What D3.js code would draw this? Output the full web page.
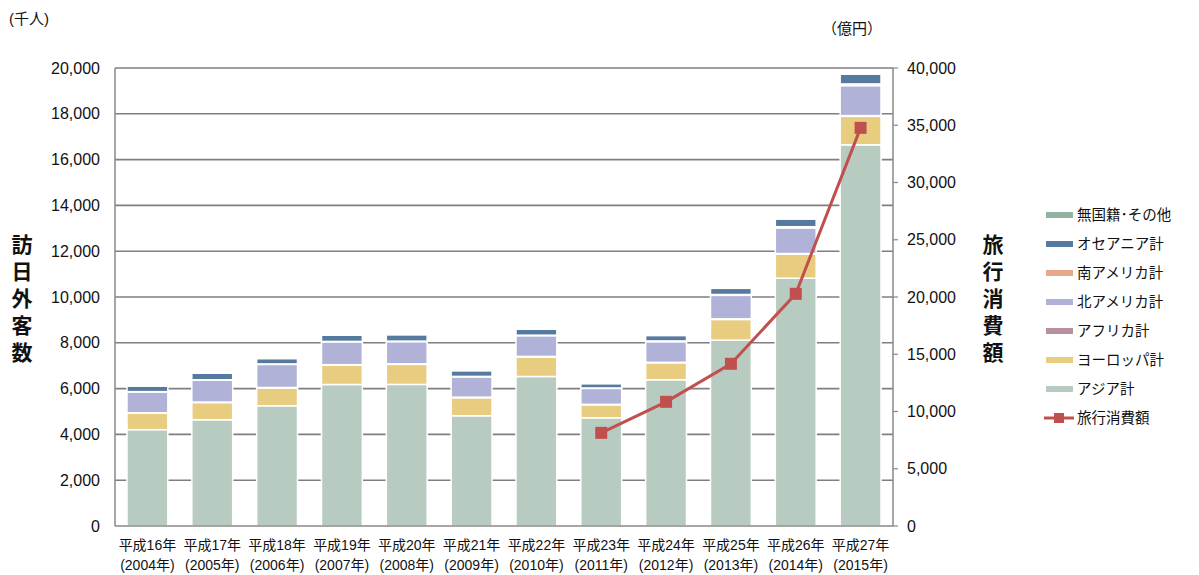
<!DOCTYPE html>
<html>
<head>
<meta charset="utf-8">
<script src="https://cdn.jsdelivr.net/npm/d3@7/dist/d3.min.js"></script>
<style>
  body { margin: 0; background: #fff; }
  svg { font-family: "Liberation Sans", Arial, "Noto Sans CJK JP", sans-serif; }
</style>
</head>
<body>
<svg id="chart" width="1199" height="575"></svg>
<script>
// data (千人 / 億円)
const eraLabels = ['平成16年','平成17年','平成18年','平成19年','平成20年','平成21年','平成22年','平成23年','平成24年','平成25年','平成26年','平成27年'];
const yearLabels = ['(2004年)','(2005年)','(2006年)','(2007年)','(2008年)','(2009年)','(2010年)','(2011年)','(2012年)','(2013年)','(2014年)','(2015年)'];

const asia    = [4208, 4639, 5251, 6179, 6183, 4814, 6528, 4726, 6387, 8115, 10819, 16645];
const europe  = [718, 753, 777, 842, 876, 789, 853, 567, 739, 904, 1049, 1244];
const africa  = [19, 20, 21, 23, 25, 22, 24, 20, 23, 27, 30, 32];
const northAm = [906, 955, 1009, 996, 969, 889, 906, 697, 901, 1027, 1118, 1310];
const southAm = [17, 18, 20, 21, 20, 19, 22, 18, 31, 36, 53, 74];
const oceania = [243, 285, 235, 269, 281, 250, 260, 190, 239, 271, 336, 429];
const others  = [2, 2, 2, 2, 2, 2, 2, 2, 2, 2, 2, 2];

// 旅行消費額 only from 2011
const spendYears = [7, 8, 9, 10, 11];
const spending = [8135, 10846, 14167, 20278, 34771];

const seriesNames = ['アジア計','ヨーロッパ計','アフリカ計','北アメリカ計','南アメリカ計','オセアニア計','無国籍･その他'];
const seriesColors = ['#b8cbc1','#e8cc7f','#b890a2','#b0b2d8','#e8a98a','#56799f','#91b3a1'];

const leftTicks = [0, 2000, 4000, 6000, 8000, 10000, 12000, 14000, 16000, 18000, 20000];
const rightTicks = [0, 5000, 10000, 15000, 20000, 25000, 30000, 35000, 40000];

const svg = d3.select('#chart');
const margin = {left: 115, right: 306, top: 68, bottom: 49};
const W = 1199 - margin.left - margin.right;
const H = 575 - margin.top - margin.bottom;

const g = svg.append('g').attr('transform', 'translate(' + margin.left + ',' + margin.top + ')');

const x = d3.scaleBand().domain(d3.range(12)).range([0, W]).paddingInner(0.37).paddingOuter(0.185);
const y = d3.scaleLinear().domain([0, 20000]).range([H, 0]);
const y2 = d3.scaleLinear().domain([0, 40000]).range([H, 0]);

// grid
g.append('g').selectAll('line').data(leftTicks.slice(1)).enter().append('line')
  .attr('x1', 0).attr('x2', W)
  .attr('y1', d => y(d)).attr('y2', d => y(d))
  .attr('stroke', '#7f7f7f').attr('stroke-width', 1.6);

// stacked bars
const table = d3.range(12).map(i => ({
  i: i, s0: asia[i], s1: europe[i], s2: africa[i], s3: northAm[i], s4: southAm[i], s5: oceania[i], s6: others[i]
}));
const stack = d3.stack().keys(['s0','s1','s2','s3','s4','s5','s6']);
const layers = stack(table);

g.append('g').selectAll('g').data(layers).enter().append('g')
  .attr('fill', (d, k) => seriesColors[k])
  .selectAll('rect').data(d => d).enter().append('rect')
    .attr('x', d => x(d.data.i))
    .attr('width', x.bandwidth())
    .attr('y', d => y(d[1]))
    .attr('height', d => Math.max(0, y(d[0]) - y(d[1])))
    .attr('stroke', '#fff').attr('stroke-width', 1.5);

// axes lines
g.append('line').attr('x1', 0).attr('x2', 0).attr('y1', 0).attr('y2', H).attr('stroke', '#888').attr('stroke-width', 1.5);
g.append('line').attr('x1', W).attr('x2', W).attr('y1', 0).attr('y2', H).attr('stroke', '#888').attr('stroke-width', 1.5);
g.append('line').attr('x1', 0).attr('x2', W).attr('y1', H).attr('y2', H).attr('stroke', '#888').attr('stroke-width', 1.5);

// left tick labels
g.append('g').selectAll('text').data(leftTicks).enter().append('text')
  .attr('x', -15).attr('y', d => y(d)).attr('dy', '0.35em')
  .attr('text-anchor', 'end').attr('font-size', 16).attr('fill', '#111')
  .text(d => d3.format(',')(d));

// right ticks
const rt = g.append('g');
rt.selectAll('line').data(rightTicks).enter().append('line')
  .attr('x1', W).attr('x2', W + 5).attr('y1', d => y2(d)).attr('y2', d => y2(d))
  .attr('stroke', '#888').attr('stroke-width', 1.2);
rt.selectAll('text').data(rightTicks).enter().append('text')
  .attr('x', W + 14).attr('y', d => y2(d)).attr('dy', '0.35em')
  .attr('font-size', 16).attr('fill', '#111')
  .text(d => d3.format(',')(d));

// x labels
const xl = g.append('g');
xl.selectAll('text.era').data(eraLabels).enter().append('text')
  .attr('x', (d, i) => x(i) + x.bandwidth() / 2).attr('y', H + 24)
  .attr('text-anchor', 'middle').attr('font-size', 14).attr('fill', '#111')
  .text(d => d);
xl.selectAll('text.yr').data(yearLabels).enter().append('text')
  .attr('x', (d, i) => x(i) + x.bandwidth() / 2).attr('y', H + 44)
  .attr('text-anchor', 'middle').attr('font-size', 14).attr('fill', '#111')
  .text(d => d);

// spending line
const spendData = spendYears.map((yi, k) => ({i: yi, v: spending[k]}));
g.append('path').datum(spendData)
  .attr('fill', 'none').attr('stroke', '#c0504d').attr('stroke-width', 3)
  .attr('d', d3.line().x(d => x(d.i) + x.bandwidth() / 2).y(d => y2(d.v)));
g.append('g').selectAll('rect').data(spendData).enter().append('rect')
  .attr('x', d => x(d.i) + x.bandwidth() / 2 - 6)
  .attr('y', d => y2(d.v) - 6)
  .attr('width', 12).attr('height', 12)
  .attr('fill', '#c0504d');

// unit labels
svg.append('text').attr('x', 9).attr('y', 24).attr('font-size', 15).attr('fill', '#111').text('(千人)');
svg.append('text').attr('x', 822).attr('y', 34).attr('font-size', 15).attr('fill', '#111').text('（億円）');

// vertical axis titles
const leftTitle = '訪日外客数'.split('');
svg.append('g').selectAll('text').data(leftTitle).enter().append('text')
  .attr('x', 22).attr('y', (d, i) => 252 + i * 27)
  .attr('text-anchor', 'middle').attr('font-size', 21).attr('font-weight', 'bold').attr('fill', '#111')
  .text(d => d);
const rightTitle = '旅行消費額'.split('');
svg.append('g').selectAll('text').data(rightTitle).enter().append('text')
  .attr('x', 993).attr('y', (d, i) => 252 + i * 27)
  .attr('text-anchor', 'middle').attr('font-size', 21).attr('font-weight', 'bold').attr('fill', '#111')
  .text(d => d);

// legend (reverse order, then line)
const legendItems = seriesNames.map((n, k) => ({name: n, color: seriesColors[k]})).reverse();
const lg = svg.append('g').attr('transform', 'translate(1046,215)');
const rows = lg.selectAll('g').data(legendItems).enter().append('g')
  .attr('transform', (d, i) => 'translate(0,' + i * 29 + ')');
rows.append('rect').attr('x', 0).attr('y', -3).attr('width', 27).attr('height', 6).attr('fill', d => d.color);
rows.append('text').attr('x', 31).attr('y', 0).attr('dy', '0.35em').attr('font-size', 14.5).attr('fill', '#111').text(d => d.name);
const lr = lg.append('g').attr('transform', 'translate(0,' + legendItems.length * 29 + ')');
lr.append('line').attr('x1', -2).attr('x2', 28).attr('y1', 0).attr('y2', 0).attr('stroke', '#c0504d').attr('stroke-width', 3);
lr.append('rect').attr('x', 8).attr('y', -5).attr('width', 10).attr('height', 10).attr('fill', '#c0504d');
lr.append('text').attr('x', 31).attr('y', 0).attr('dy', '0.35em').attr('font-size', 14.5).attr('fill', '#111').text('旅行消費額');
</script>
</body>
</html>
